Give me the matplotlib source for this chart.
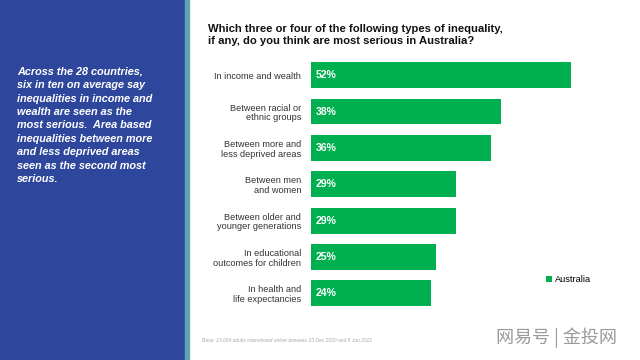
import matplotlib.pyplot as plt
from matplotlib.patches import Rectangle

categories = ['In income and wealth', 'Between racial or\nethnic groups',
              'Between more and\nless deprived areas', 'Between men\nand women',
              'Between older and\nyounger generations', 'In educational\noutcomes for children',
              'In health and\nlife expectancies']
values = [52, 38, 36, 29, 29, 25, 24]
series_name = 'Australia'

green = '#00B050'
blue = '#2E479C'

plt.rcParams['font.family'] = ['Liberation Sans', 'DejaVu Sans']

fig = plt.figure(figsize=(6.4, 3.6), dpi=100)
W, H = 640, 360

# left panel
fig.patches.append(Rectangle((0, 0), 185 / W, 1, transform=fig.transFigure, color=blue, zorder=0))
fig.patches.append(Rectangle((185 / W, 0), 4 / W, 1, transform=fig.transFigure, color='#5FA3B5', zorder=0))

side = ('Across the 28 countries,\nsix in ten on average say\ninequalities in income and\n'
        'wealth are seen as the\nmost serious.  Area based\ninequalities between more\n'
        'and less deprived areas\nseen as the second most\nserious.')
fig.text(17 / W, 1 - 67 / H, side, color='white', fontsize=7.8, fontweight='bold',
         fontstyle='italic', va='top', ha='left', linespacing=1.42)

fig.text(208 / W, 1 - 24 / H,
         'Which three or four of the following types of inequality,\nif any, do you think are most serious in Australia?',
         fontsize=8.1, fontweight='bold', va='top', ha='left', color='#111111', linespacing=1.3)

ax = fig.add_axes([311 / W, 1 - 311.5 / H, 300 / W, 254.5 / H])
y = list(range(len(values)))
ax.barh(y, values, height=0.71, color=green, label=series_name)
ax.set_xlim(0, 60)
ax.set_ylim(len(values) - 0.5, -0.5)
ax.set_yticks(y)
ax.set_yticklabels(categories, fontsize=6.6, color='#333333', linespacing=1.1)
ax.tick_params(axis='y', length=0, pad=7)
ax.set_xticks([])
for s in ax.spines.values():
    s.set_visible(False)
ax.patch.set_alpha(0)
for yi, v in zip(y, values):
    ax.text(1, yi, f'{v}%', color='white', fontsize=7.6, fontweight='bold', va='center', ha='left')

ax.legend(loc='center left', bbox_to_anchor=(538 / W, 1 - 280 / H), bbox_transform=fig.transFigure,
          frameon=False, fontsize=6.6, handlelength=0.6, handleheight=0.6, handletextpad=0.4)

fig.text(202 / W, 1 - 340 / H, 'Base: 23,004 adults interviewed online between 23 Dec 2020 and 8 Jan 2021',
         fontsize=3.6, fontstyle='italic', color='#AAAAAA', va='center')
fig.text(496 / W, 1 - 338 / H, '网易号 | 金投网', family=['Noto Sans CJK SC', 'DejaVu Sans'],
         fontsize=13, color='#9A9A9A', va='center', ha='left')

fig.savefig('out.png', dpi=100)
